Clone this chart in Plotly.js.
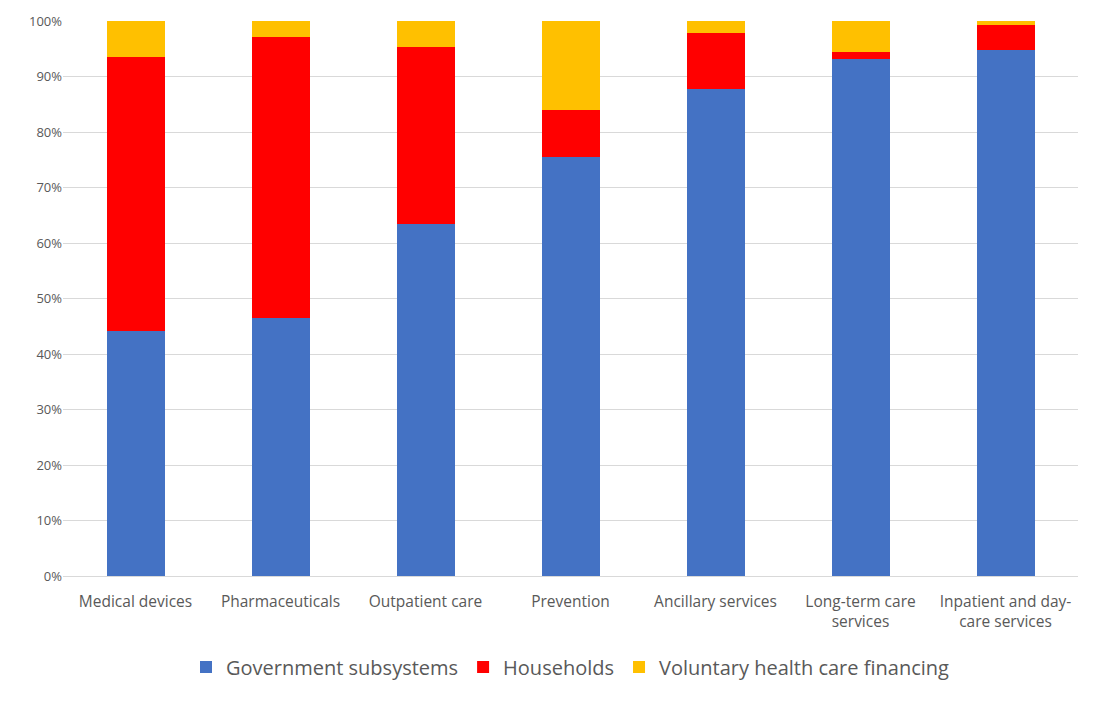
<!DOCTYPE html>
<html>
<head>
<meta charset="utf-8">
<script src="https://cdn.plot.ly/plotly-3.0.1.min.js"></script>
<style>html,body{margin:0;padding:0;background:#fff;}#chart{width:1110px;height:705px;}</style>
</head>
<body>
<div id="chart"></div>
<script>
var categories = ["Medical devices", "Pharmaceuticals", "Outpatient care", "Prevention", "Ancillary services", "Long-term care<br>services", "Inpatient and day-<br>care services"];
var government = [44.1, 46.4, 63.5, 75.5, 87.8, 93.2, 94.8];
var households = [49.4, 50.7, 31.9, 8.5, 10.1, 1.3, 4.5];
var voluntary = [6.5, 2.9, 4.6, 16.0, 2.1, 5.5, 0.7];
var tickVals = [0, 10, 20, 30, 40, 50, 60, 70, 80, 90, 100];
var tickText = ["0%", "10%", "20%", "30%", "40%", "50%", "60%", "70%", "80%", "90%", "100%"];

var font = "Open Sans, Noto Sans, sans-serif";
var traces = [
  {type: "bar", name: "Government subsystems", x: categories, y: government, marker: {color: "#4472C4"}},
  {type: "bar", name: "Households", x: categories, y: households, marker: {color: "#FF0000"}},
  {type: "bar", name: "Voluntary health care financing", x: categories, y: voluntary, marker: {color: "#FFC000"}}
];
var layout = {
  barmode: "stack",
  bargap: 0.6,
  width: 1110,
  height: 705,
  margin: {l: 63, r: 32, t: 21, b: 129},
  paper_bgcolor: "#fff",
  plot_bgcolor: "#fff",
  font: {family: font, color: "#595959", size: 14},
  xaxis: {tickfont: {size: 15.5, color: "#595959"}, showline: false, ticks: "", ticklabelstandoff: 14, automargin: false},
  yaxis: {range: [0, 100], tickvals: tickVals, ticktext: tickText, gridcolor: "#d9d9d9", gridwidth: 1,
          zeroline: true, zerolinecolor: "#d9d9d9", zerolinewidth: 1, tickfont: {size: 13, color: "#595959"}, ticks: "", automargin: false},
  legend: {orientation: "h", x: 0.5, xanchor: "center", y: -0.164, yanchor: "middle", font: {size: 20, color: "#595959"}, traceorder: "normal", itemwidth: 20},
  showlegend: true
};
Plotly.newPlot("chart", traces, layout, {displayModeBar: false, staticPlot: true});
</script>
</body>
</html>
